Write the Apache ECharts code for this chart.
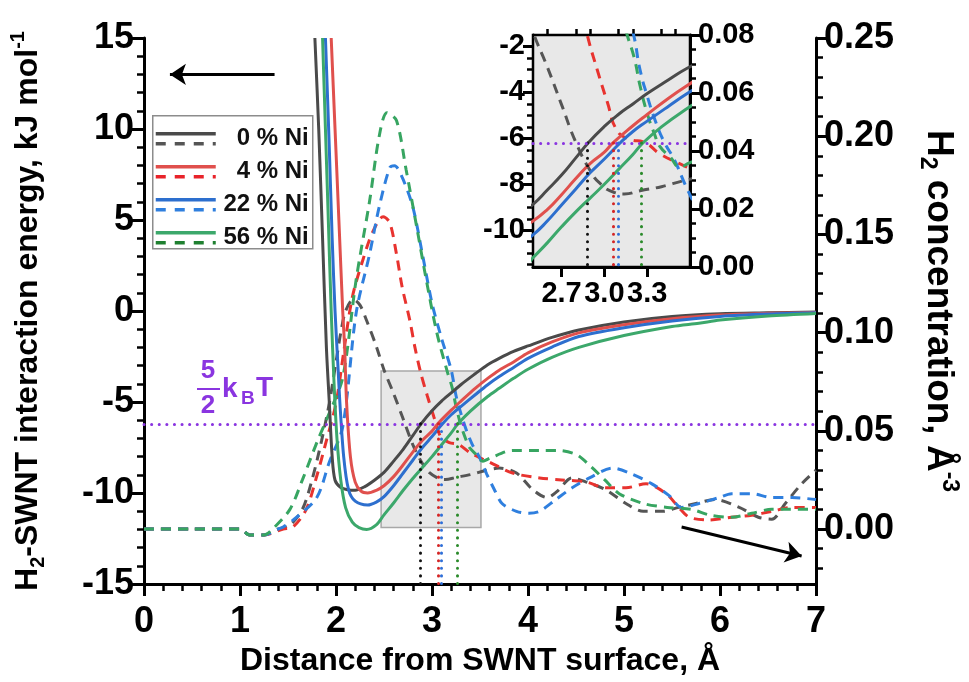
<!DOCTYPE html>
<html>
<head>
<meta charset="UTF-8">
<title>H2-SWNT interaction energy</title>
<style>
  * { margin: 0; padding: 0; }
  html, body { background: #fff; }
  #chart { width: 969px; height: 682px; }
</style>
</head>
<body>
<div id="chart"></div>
<script src="https://cdn.jsdelivr.net/npm/echarts@6/dist/echarts.min.js"></script>
<script>
var seriesNames = ['0 % Ni', '4 % Ni', '22 % Ni', '56 % Ni'];

// interaction energy, kJ/mol (left axis): [distance, energy]
var energy0 = [[1.78,15],[1.82,10],[1.86,4],[1.90,-2],[1.93,-5],[1.96,-8],[1.99,-9.3],[2.05,-9.7],[2.12,-9.82],[2.2,-9.85],[2.3,-9.65],[2.4,-9.3],[2.5,-8.87],[2.6,-8.25],[2.7,-7.6],[2.8,-6.85],[2.886,-6.2],[3.0,-5.48],[3.1,-4.95],[3.2,-4.5],[3.3,-4.05],[3.45,-3.45],[3.58,-2.95],[3.7,-2.6],[3.85,-2.22],[4.0,-1.92],[4.25,-1.45],[4.53,-1.04],[5.0,-0.6],[5.5,-0.3],[6.0,-0.15],[6.5,-0.1],[7.0,-0.06]];
var energy4 = [[1.95,15],[1.99,10],[2.03,5],[2.07,0],[2.09,-2],[2.11,-5],[2.15,-8],[2.2,-9.4],[2.26,-9.9],[2.33,-10.0],[2.42,-9.85],[2.5,-9.6],[2.6,-9.1],[2.7,-8.45],[2.8,-7.75],[2.9,-7.1],[3.0,-6.6],[3.06,-6.2],[3.2,-5.45],[3.3,-4.96],[3.45,-4.25],[3.58,-3.7],[3.7,-3.25],[3.85,-2.8],[4.0,-2.3],[4.25,-1.7],[4.53,-1.2],[5.0,-0.75],[5.5,-0.42],[6.0,-0.22],[6.5,-0.13],[7.0,-0.08]];
var energy22 = [[1.89,15],[1.93,9],[1.96,4],[1.99,0],[2.02,-3],[2.04,-5],[2.08,-8],[2.13,-9.8],[2.2,-10.45],[2.33,-10.66],[2.42,-10.5],[2.5,-10.2],[2.6,-9.6],[2.7,-8.9],[2.8,-8.2],[2.9,-7.5],[3.0,-6.9],[3.11,-6.2],[3.2,-5.7],[3.3,-5.25],[3.45,-4.6],[3.58,-4.05],[3.7,-3.6],[3.85,-3.1],[4.0,-2.6],[4.25,-1.98],[4.53,-1.4],[5.0,-0.92],[5.5,-0.55],[6.0,-0.3],[6.5,-0.17],[7.0,-0.1]];
var energy56 = [[1.86,15],[1.89,10],[1.92,5],[1.95,0],[1.98,-4],[2.01,-7],[2.05,-9.3],[2.1,-10.8],[2.17,-11.6],[2.24,-11.9],[2.32,-12.0],[2.42,-11.75],[2.5,-11.2],[2.6,-10.55],[2.7,-9.85],[2.8,-9.2],[2.9,-8.6],[3.0,-8.0],[3.1,-7.35],[3.2,-6.7],[3.27,-6.2],[3.4,-5.5],[3.58,-4.7],[3.7,-4.25],[3.85,-3.7],[4.0,-3.2],[4.25,-2.55],[4.53,-2.0],[5.0,-1.35],[5.5,-0.85],[5.78,-0.67],[6.0,-0.5],[6.5,-0.28],[7.0,-0.14]];

// H2 concentration, 1/A^3 (right axis): [distance, concentration]
var conc0 = [[0,0],[0.5,0],[1.0,0],[1.1,-0.003],[1.25,-0.003],[1.4,0],[1.52,0.002],[1.65,0.01],[1.75,0.025],[1.85,0.045],[1.93,0.064],[2.0,0.085],[2.05,0.1],[2.1,0.111],[2.18,0.117],[2.25,0.114],[2.32,0.106],[2.42,0.093],[2.5,0.081],[2.6,0.069],[2.7,0.056],[2.8,0.043],[2.9,0.0333],[2.97,0.0288],[3.07,0.0257],[3.14,0.0252],[3.25,0.0263],[3.4,0.0277],[3.56,0.0298],[3.7,0.031],[3.88,0.0285],[4.05,0.02],[4.2,0.016],[4.3,0.019],[4.46,0.026],[4.6,0.024],[4.81,0.02],[5.02,0.013],[5.2,0.009],[5.4,0.009],[5.57,0.011],[5.75,0.013],[5.95,0.015],[6.2,0.011],[6.4,0.006],[6.54,0.005],[6.68,0.013],[6.85,0.023],[7.0,0.03]];
var conc4 = [[0,0],[0.5,0],[1.0,0],[1.1,-0.003],[1.25,-0.003],[1.45,0],[1.55,0.001],[1.69,0.01],[1.8,0.027],[1.9,0.045],[2.0,0.064],[2.08,0.09],[2.17,0.118],[2.28,0.137],[2.38,0.151],[2.49,0.159],[2.56,0.156],[2.63,0.14],[2.69,0.123],[2.77,0.106],[2.82,0.093],[2.88,0.08],[2.95,0.068],[3.02,0.057],[3.09,0.047],[3.18,0.044],[3.28,0.043],[3.39,0.039],[3.51,0.036],[3.6,0.034],[3.84,0.0285],[4.12,0.026],[4.35,0.025],[4.6,0.024],[4.81,0.021],[5.02,0.021],[5.23,0.023],[5.44,0.018],[5.57,0.011],[5.68,0.006],[5.88,0.0046],[6.12,0.006],[6.33,0.007],[6.54,0.009],[6.75,0.011],[7.0,0.011]];
var conc22 = [[0,0],[0.5,0],[1.0,0],[1.1,-0.003],[1.25,-0.003],[1.4,0],[1.45,0.001],[1.59,0.006],[1.8,0.016],[1.93,0.034],[2.07,0.052],[2.21,0.11],[2.35,0.14],[2.45,0.164],[2.56,0.184],[2.61,0.185],[2.69,0.179],[2.8,0.164],[2.9,0.14],[3.0,0.115],[3.1,0.097],[3.2,0.081],[3.25,0.068],[3.3,0.059],[3.36,0.05],[3.42,0.043],[3.49,0.037],[3.57,0.028],[3.65,0.02],[3.73,0.013],[3.88,0.009],[4.01,0.008],[4.12,0.009],[4.29,0.015],[4.46,0.021],[4.64,0.026],[4.88,0.031],[5.08,0.028],[5.29,0.023],[5.47,0.017],[5.6,0.011],[5.78,0.013],[5.99,0.016],[6.12,0.018],[6.33,0.018],[6.54,0.016],[6.75,0.016],[7.0,0.015]];
var conc56 = [[0,0],[0.5,0],[1.0,0],[1.1,-0.003],[1.25,-0.003],[1.34,0],[1.52,0.01],[1.65,0.025],[1.8,0.044],[1.93,0.059],[2.07,0.077],[2.21,0.127],[2.35,0.167],[2.45,0.2],[2.53,0.212],[2.63,0.208],[2.73,0.183],[2.84,0.154],[2.94,0.127],[3.05,0.1],[3.16,0.08],[3.21,0.072],[3.25,0.0625],[3.3,0.053],[3.35,0.046],[3.39,0.0415],[3.46,0.038],[3.53,0.0345],[3.6,0.036],[3.84,0.04],[4.12,0.04],[4.3,0.04],[4.5,0.038],[4.65,0.032],[4.8,0.025],[4.95,0.018],[5.2,0.013],[5.45,0.011],[5.7,0.01],[5.9,0.007],[6.12,0.006],[6.33,0.008],[6.54,0.01],[7.0,0.01]];

var energies = [energy0, energy4, energy22, energy56];
var concs = [conc0, conc4, conc22, conc56];

// where each energy curve crosses 5/2 kT
var crossX = [2.88, 3.06, 3.10, 3.26];
var kTLevel = -6.2;
var zoomBox = [[2.47, -3.3], [3.51, -11.9]];
var arrowLeft = [[1.36, 13], [0.27, 13]];
var arrowRight = [[5.6, -11.87], [6.85, -13.46]];

// tick values
var rightTicks = [0, 0.05, 0.10, 0.15, 0.20, 0.25];
var rightMinor = [-0.02, -0.01, 0.01, 0.02, 0.03, 0.04, 0.06, 0.07, 0.08, 0.09, 0.11, 0.12, 0.13, 0.14, 0.16, 0.17, 0.18, 0.19, 0.21, 0.22, 0.23, 0.24];
var insetXTicks = [2.7, 3.0, 3.3];
var insetXMinor = [2.6, 2.8, 2.9, 3.1, 3.2, 3.4, 3.5];
var insetYTicks = [-10, -8, -6, -4, -2];
var insetYMinor = [-11.5, -11, -10.5, -9.5, -9, -8.5, -7.5, -7, -6.5, -5.5, -5, -4.5, -3.5, -3, -2.5];

var solidColors = ['#4a4a4a', '#e0504d', '#2d6fce', '#3ca86b'];
var dashColors = ['#555555', '#e8332f', '#2f7fde', '#37a561'];
var dotColors = ['#111111', '#d42424', '#2f6fd8', '#2a8a2a'];
var legendDash = ['#555555', '#e8232a', '#2f7fde', '#1f8030'];
var kTColor = '#8a35e0';

var FONT = '"Liberation Sans", Arial, sans-serif';

var myChart = echarts.init(document.getElementById('chart'));

function axisBase() {
	return {
		type: 'value',
		splitLine: { show: false },
		axisLine: { show: true, onZero: false, lineStyle: { color: '#000', width: 3 } },
		axisTick: { show: true, inside: false, length: 12, lineStyle: { color: '#000', width: 3 } },
		axisLabel: { color: '#000', fontFamily: FONT, fontWeight: 'bold', fontSize: 36 }
	};
}

function merge(a, b) {
	for (var k in b) {
		if (b[k] && typeof b[k] === 'object' && !Array.isArray(b[k]) && a[k] && typeof a[k] === 'object') {
			merge(a[k], b[k]);
		} else {
			a[k] = b[k];
		}
	}
	return a;
}

function fixed(n) {
	return function(v) { return v.toFixed(n); };
}

function richName(size) {
	return {
		color: '#000',
		rich: {
			t: { fontFamily: FONT, fontWeight: 'bold', fontSize: size, lineHeight: size + 8, color: '#000' },
			s: { fontFamily: FONT, fontWeight: 'bold', fontSize: Math.round(size * 0.62), lineHeight: 18, verticalAlign: 'bottom', color: '#000' },
			p: { fontFamily: FONT, fontWeight: 'bold', fontSize: Math.round(size * 0.62), lineHeight: 18, verticalAlign: 'top', color: '#000' }
		}
	};
}

var xAxes = [
	merge(axisBase(), {
		gridIndex: 0, min: 0, max: 7, interval: 1,
		minorTick: { show: true, splitNumber: 5, length: 7, lineStyle: { color: '#000', width: 2.5 } },
		axisLabel: { margin: 20 },
		name: 'Distance from SWNT surface, Å', nameLocation: 'middle', nameGap: 53,
		nameTextStyle: { color: '#000', fontFamily: FONT, fontWeight: 'bold', fontSize: 32 }
	}),
	merge(axisBase(), {
		gridIndex: 1, min: 2.5, max: 3.6,
		axisTick: { customValues: insetXTicks, length: 10 },
		axisLabel: { customValues: insetXTicks, formatter: fixed(1), fontSize: 29, margin: 12 }
	}),
	merge(axisBase(), {
		gridIndex: 1, min: 2.5, max: 3.6,
		axisLine: { show: false },
		axisTick: { customValues: insetXMinor, length: 6, lineStyle: { width: 2.5 } },
		axisLabel: { show: false }
	})
];

var yAxes = [
	merge(axisBase(), {
		gridIndex: 0, position: 'left', min: -15, max: 15, interval: 5,
		minorTick: { show: true, splitNumber: 5, length: 7, lineStyle: { color: '#000', width: 2.5 } },
		axisLabel: { margin: 10 },
		name: '{t|H}{s|2}{t|-SWNT interaction energy, kJ mol}{p|-1}',
		nameLocation: 'middle', nameRotate: 90, nameGap: 96,
		nameTextStyle: richName(32)
	}),
	merge(axisBase(), {
		gridIndex: 0, position: 'right', min: -0.028, max: 0.25,
		axisTick: { customValues: rightTicks },
		axisLabel: { customValues: rightTicks, formatter: fixed(2), margin: 8 },
		name: '{t|H}{s|2}{t| concentration, Å}{p|-3}',
		nameLocation: 'middle', nameRotate: -90, nameGap: 100,
		nameTextStyle: richName(37)
	}),
	merge(axisBase(), {
		gridIndex: 0, position: 'right', min: -0.028, max: 0.25,
		axisLine: { show: false },
		axisTick: { customValues: rightMinor, length: 7, lineStyle: { width: 2.5 } },
		axisLabel: { show: false }
	}),
	merge(axisBase(), {
		gridIndex: 1, position: 'left', min: -11.6, max: -1.5,
		axisTick: { customValues: insetYTicks, length: 10 },
		axisLabel: { customValues: insetYTicks, fontSize: 29, margin: 8 }
	}),
	merge(axisBase(), {
		gridIndex: 1, position: 'left', min: -11.6, max: -1.5,
		axisLine: { show: false },
		axisTick: { customValues: insetYMinor, length: 6, lineStyle: { width: 2.5 } },
		axisLabel: { show: false }
	}),
	merge(axisBase(), {
		gridIndex: 1, position: 'right', min: 0, max: 0.08, interval: 0.02,
		minorTick: { show: true, splitNumber: 4, length: 6, lineStyle: { color: '#000', width: 2.5 } },
		axisTick: { length: 10 },
		axisLabel: { formatter: fixed(2), fontSize: 29, margin: 8 }
	})
];

function line(data, color, dashed, xi, yi, z, smooth) {
	return {
		type: 'line', data: data, xAxisIndex: xi, yAxisIndex: yi,
		showSymbol: false, smooth: smooth, clip: true, silent: true,
		lineStyle: { color: color, width: 3, type: dashed ? [10, 7] : 'solid' },
		z: z + (dashed ? 0 : 1)
	};
}

function dotLine(color) {
	return { color: color, width: 3, type: [0.1, 7.5], cap: 'round' };
}

var series = [];
// main plot
for (var i = 0; i < 4; i++) {
	series.push(line(concs[i], dashColors[i], true, 0, 1, 3, 0.3));
}
for (var i = 0; i < 4; i++) {
	var s = line(energies[i], solidColors[i], false, 0, 0, 3, 0.3);
	var ml = [[{ coord: [crossX[i], kTLevel], lineStyle: dotLine(dotColors[i]) }, { coord: [crossX[i], -15] }]];
	if (i === 0) {
		ml.push({ yAxis: kTLevel, lineStyle: dotLine(kTColor) });
		ml.push([{ coord: arrowLeft[0], symbol: 'none', lineStyle: { color: '#000', width: 3, type: 'solid' } }, { coord: arrowLeft[1], symbol: 'arrow', symbolSize: 16 }]);
		ml.push([{ coord: arrowRight[0], symbol: 'none', lineStyle: { color: '#000', width: 3, type: 'solid' } }, { coord: arrowRight[1], symbol: 'arrow', symbolSize: 16 }]);
		s.markArea = {
			silent: true,
			itemStyle: { color: 'rgba(205,205,205,0.45)', borderColor: '#a8a8a8', borderWidth: 1.5 },
			data: [[{ coord: zoomBox[0] }, { coord: zoomBox[1] }]]
		};
	}
	s.markLine = { silent: true, symbol: ['none', 'none'], label: { show: false }, animation: false, data: ml };
	series.push(s);
}
// inset (drawn above its grey background)
for (var i = 0; i < 4; i++) {
	series.push(line(concs[i], dashColors[i], true, 1, 5, 20, 0.5));
}
for (var i = 0; i < 4; i++) {
	var s = line(energies[i], solidColors[i], false, 1, 3, 20, 0.5);
	var ml = [[{ coord: [crossX[i], kTLevel], lineStyle: dotLine(dotColors[i]) }, { coord: [crossX[i], -11.6] }]];
	if (i === 0) {
		ml.push({ yAxis: kTLevel, lineStyle: dotLine(kTColor) });
	}
	s.markLine = { z: 25, silent: true, symbol: ['none', 'none'], label: { show: false }, animation: false, data: ml };
	series.push(s);
}

// legend drawn by hand: solid + dashed sample per entry
var legendChildren = [{
	type: 'rect', shape: { x: 0, y: 0, width: 160, height: 133 },
	style: { fill: '#fff', stroke: '#8c8c8c', lineWidth: 1.5 }
}];
for (var i = 0; i < 4; i++) {
	var y0 = 18 + i * 33;
	legendChildren.push({ type: 'line', shape: { x1: 3, y1: y0, x2: 63, y2: y0 }, style: { stroke: solidColors[i], lineWidth: 3.5 } });
	legendChildren.push({ type: 'line', shape: { x1: 3, y1: y0 + 10, x2: 63, y2: y0 + 10 }, style: { stroke: legendDash[i], lineWidth: 3.5, lineDash: [10, 9] } });
	legendChildren.push({ type: 'text', style: { text: seriesNames[i], x: 156, y: y0 + 5, align: 'right', verticalAlign: 'middle', fontFamily: FONT, fontWeight: 'bold', fontSize: 24, fill: '#111' } });
}

var kTText = { fontFamily: FONT, fontWeight: 'bold', fill: kTColor, verticalAlign: 'middle' };
var graphics = [
	{ type: 'group', left: 152, top: 115, z: 50, children: legendChildren },
	{ type: 'text', z: 50, style: merge({ text: '5', x: 208, y: 371, align: 'center', fontSize: 26 }, kTText) },
	{ type: 'line', z: 50, shape: { x1: 197, y1: 389, x2: 220, y2: 389 }, style: { stroke: kTColor, lineWidth: 2 } },
	{ type: 'text', z: 50, style: merge({ text: '2', x: 208, y: 406, align: 'center', fontSize: 26 }, kTText) },
	{ type: 'text', z: 50, style: merge({ text: 'k', x: 222, y: 389, align: 'left', fontSize: 28 }, kTText) },
	{ type: 'text', z: 50, style: merge({ text: 'B', x: 241, y: 399, align: 'left', fontSize: 19 }, kTText) },
	{ type: 'text', z: 50, style: merge({ text: 'T', x: 256, y: 388, align: 'left', fontSize: 28 }, kTText) }
];

var option = {
	backgroundColor: '#fff',
	animation: false,
	grid: [
		{ left: 144, right: 151, top: 38, bottom: 98, containLabel: false },
		{ left: 533, top: 35, width: 157, height: 232, show: true, backgroundColor: '#e8e8e8', borderColor: '#000', borderWidth: 2.5, z: 10 }
	],
	xAxis: xAxes,
	yAxis: yAxes,
	series: series,
	graphic: graphics
};
myChart.setOption(option);
</script>
</body>
</html>
